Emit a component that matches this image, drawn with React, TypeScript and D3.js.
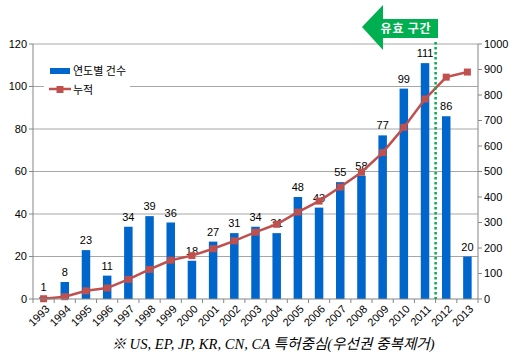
import React, { useEffect, useRef } from "react";
import * as d3 from "d3";

const years = ["1993", "1994", "1995", "1996", "1997", "1998", "1999", "2000", "2001", "2002", "2003", "2004", "2005", "2006", "2007", "2008", "2009", "2010", "2011", "2012", "2013"];
const counts = [1, 8, 23, 11, 34, 39, 36, 18, 27, 31, 34, 31, 48, 43, 55, 58, 77, 99, 111, 86, 20];
const cumulative = [1, 9, 32, 43, 77, 116, 152, 170, 197, 228, 262, 293, 341, 384, 439, 497, 574, 673, 784, 870, 890];
const leftTicks = [0, 20, 40, 60, 80, 100, 120];
const rightTicks = [0, 100, 200, 300, 400, 500, 600, 700, 800, 900, 1000];

const BAR = "#0066cc";
const LINE = "#c0504d";
const GREEN = "#00b050";
const FONT = "'Liberation Sans', Arial, sans-serif";
const KR = "'Noto Sans CJK KR', sans-serif";

export default function App() {
	const svgRef = useRef<SVGSVGElement | null>(null);

	useEffect(() => {
		if (!svgRef.current) return;
		const width = 517;
		const height = 363;
		const margin = { top: 44, right: 39, bottom: 64, left: 33 };

		const svg = d3.select(svgRef.current);
		svg.selectAll("*").remove();

		const x = d3.scaleBand<string>().domain(years).range([margin.left, width - margin.right]);
		const yL = d3.scaleLinear().domain([0, 120]).range([height - margin.bottom, margin.top]);
		const yR = d3.scaleLinear().domain([0, 1000]).range([height - margin.bottom, margin.top]);
		const x0 = margin.left;
		const x1 = width - margin.right;
		const yb = height - margin.bottom;

		// gridlines
		svg.append("g")
			.selectAll("line")
			.data(leftTicks.filter((d) => d > 0))
			.enter()
			.append("line")
			.attr("x1", x0)
			.attr("x2", x1)
			.attr("y1", (d) => yL(d))
			.attr("y2", (d) => yL(d))
			.attr("stroke", "#a6a6a6")
			.attr("stroke-width", 1);

		// bars
		const bw = 8.5;
		svg.append("g")
			.selectAll("rect")
			.data(counts)
			.enter()
			.append("rect")
			.attr("x", (d, i) => x(years[i])! + x.bandwidth() / 2 - bw / 2)
			.attr("y", (d) => yL(d))
			.attr("width", bw)
			.attr("height", (d) => yb - yL(d))
			.attr("fill", BAR);

		// bar labels
		svg.append("g")
			.selectAll("text")
			.data(counts)
			.enter()
			.append("text")
			.attr("x", (d, i) => x(years[i])! + x.bandwidth() / 2)
			.attr("y", (d) => yL(d) - 6)
			.attr("text-anchor", "middle")
			.attr("font-family", FONT)
			.attr("font-size", 11)
			.attr("fill", "#000")
			.text((d) => d);

		// cumulative line
		const line = d3
			.line<number>()
			.x((d, i) => x(years[i])! + x.bandwidth() / 2)
			.y((d) => yR(d));
		svg.append("path")
			.datum(cumulative)
			.attr("d", line)
			.attr("fill", "none")
			.attr("stroke", LINE)
			.attr("stroke-width", 2.5);
		svg.append("g")
			.selectAll("rect")
			.data(cumulative)
			.enter()
			.append("rect")
			.attr("x", (d, i) => x(years[i])! + x.bandwidth() / 2 - 3.5)
			.attr("y", (d) => yR(d) - 3.5)
			.attr("width", 7)
			.attr("height", 7)
			.attr("fill", LINE);

		// axes lines
		const axisColor = "#868686";
		svg.append("line").attr("x1", x0).attr("x2", x0).attr("y1", margin.top).attr("y2", yb).attr("stroke", axisColor);
		svg.append("line").attr("x1", x1).attr("x2", x1).attr("y1", margin.top).attr("y2", yb).attr("stroke", axisColor);
		svg.append("line").attr("x1", x0).attr("x2", x1).attr("y1", yb).attr("y2", yb).attr("stroke", axisColor);

		// left ticks
		const lg = svg.append("g");
		leftTicks.forEach((t) => {
			lg.append("line").attr("x1", x0 - 4).attr("x2", x0).attr("y1", yL(t)).attr("y2", yL(t)).attr("stroke", axisColor);
			lg.append("text")
				.attr("x", x0 - 6)
				.attr("y", yL(t))
				.attr("dy", "0.35em")
				.attr("text-anchor", "end")
				.attr("font-family", FONT)
				.attr("font-size", 11)
				.text(t);
		});
		// right ticks
		const rg = svg.append("g");
		rightTicks.forEach((t) => {
			rg.append("line").attr("x1", x1).attr("x2", x1 + 4).attr("y1", yR(t)).attr("y2", yR(t)).attr("stroke", axisColor);
			rg.append("text")
				.attr("x", x1 + 6)
				.attr("y", yR(t))
				.attr("dy", "0.35em")
				.attr("font-family", FONT)
				.attr("font-size", 11)
				.text(t);
		});
		// bottom ticks
		const bg = svg.append("g");
		years.concat([""]).forEach((y, i) => {
			const px = x0 + i * x.step();
			bg.append("line").attr("x1", px).attr("x2", px).attr("y1", yb).attr("y2", yb + 4).attr("stroke", axisColor);
		});
		years.forEach((y) => {
			const px = x(y)! + x.bandwidth() / 2;
			bg.append("text")
				.attr("transform", `translate(${px + 4},${yb + 8}) rotate(-45)`)
				.attr("text-anchor", "end")
				.attr("dy", "0.35em")
				.attr("font-family", FONT)
				.attr("font-size", 11)
				.text(y);
		});

		// legend
		const leg = svg.append("g");
		leg.append("rect").attr("x", 44).attr("y", 62).attr("width", 86).attr("height", 38).attr("fill", "#fff");
		leg.append("rect").attr("x", 50).attr("y", 68).attr("width", 20).attr("height", 6).attr("fill", BAR);
		leg.append("text").attr("x", 73).attr("y", 71).attr("dy", "0.35em").attr("font-family", KR).attr("font-size", 11).text("연도별 건수");
		leg.append("line").attr("x1", 49).attr("x2", 71).attr("y1", 89).attr("y2", 89).attr("stroke", LINE).attr("stroke-width", 2.5);
		leg.append("rect").attr("x", 56.5).attr("y", 86).attr("width", 7).attr("height", 7).attr("fill", LINE);
		leg.append("text").attr("x", 73).attr("y", 90).attr("dy", "0.35em").attr("font-family", KR).attr("font-size", 11).text("누적");

		// valid-range marker
		const sx = x0 + years.indexOf("2012") * x.step();
		svg.append("line")
			.attr("x1", sx)
			.attr("x2", sx)
			.attr("y1", 42)
			.attr("y2", yb)
			.attr("stroke", GREEN)
			.attr("stroke-width", 2.5)
			.attr("stroke-dasharray", "2.5,2.5");
		svg.append("path")
			.attr("d", `M362,27 L383,5 L383,19 L438,19 L438,38 L383,38 L383,50 Z`)
			.attr("fill", GREEN);
		svg.append("text")
			.attr("x", 406)
			.attr("y", 28.5)
			.attr("dy", "0.35em")
			.attr("text-anchor", "middle")
			.attr("font-family", KR)
			.attr("font-weight", "bold")
			.attr("font-size", 12)
			.attr("letter-spacing", 0.8)
			.attr("fill", "#fff")
			.text("유효 구간");

		// footnote
		svg.append("text")
			.attr("x", 273)
			.attr("y", 349)
			.attr("text-anchor", "middle")
			.attr("font-family", "'Liberation Serif', 'Noto Sans CJK KR', serif")
			.attr("font-style", "italic")
			.attr("font-size", 14.6)
			.text("※ US, EP, JP, KR, CN, CA 특허중심(우선권 중복제거)");
	}, []);

	return <svg ref={svgRef} width={517} height={363} style={{ position: "absolute", left: 0, top: 0, background: "#fff" }} />;
}
